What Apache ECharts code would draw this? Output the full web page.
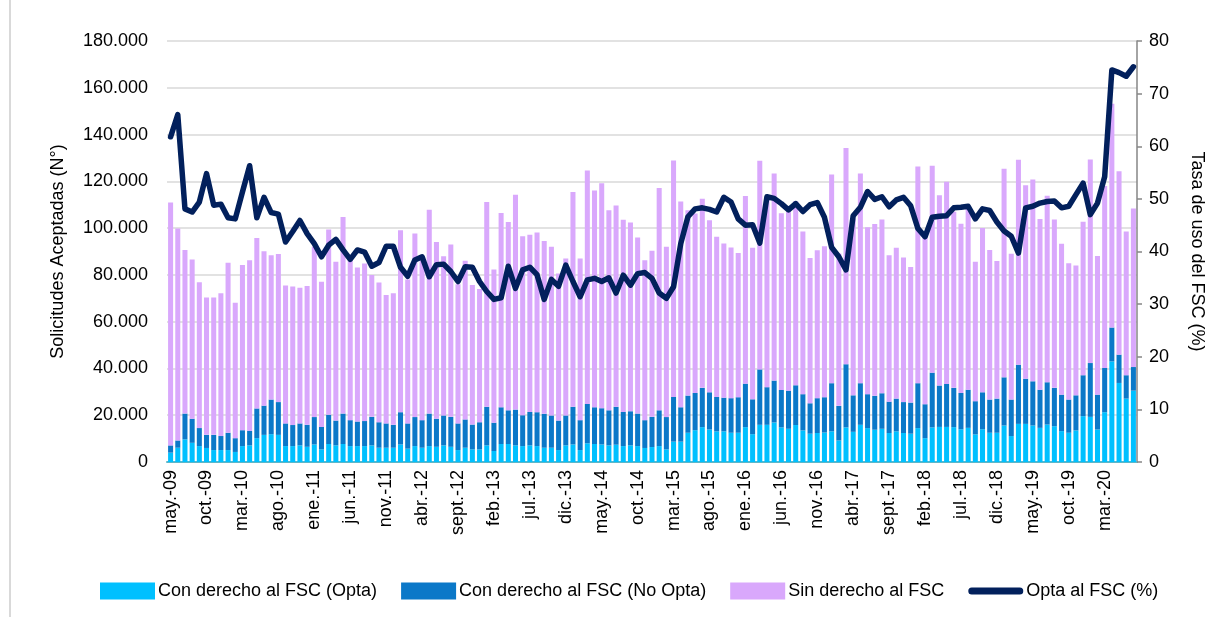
<!DOCTYPE html>
<html>
<head>
<meta charset="utf-8">
<script src="https://cdn.jsdelivr.net/npm/echarts@6/dist/echarts.min.js"></script>
<style>
  html, body { margin: 0; padding: 0; background: #fff; }
  #chart { width: 1231px; height: 617px; }
</style>
</head>
<body>
<div id="chart"></div>
<script>
// meses (etiquetas del eje), desde may.-09
var monthNames = ["ene.", "feb.", "mar.", "abr.", "may.", "jun.", "jul.", "ago.", "sept.", "oct.", "nov.", "dic."];
var firstMonth = 4, firstYear = 2009, nMonths = 135;

// solicitudes aceptadas, en miles
var conDerechoOpta = [
  4.0, 6.1, 9.7, 8.2, 6.8, 6.0, 5.1, 5.1, 5.1, 4.3,
  6.8, 7.1, 10.2, 11.6, 11.9, 11.6, 6.8, 6.8, 7.1, 6.5,
  7.5, 5.4, 7.7, 7.1, 7.7, 6.8, 6.8, 6.8, 7.1, 6.1,
  6.1, 6.1, 7.5, 5.7, 6.8, 6.1, 6.8, 6.5, 7.1, 6.5,
  5.1, 6.1, 5.4, 5.4, 7.1, 4.7, 7.7, 7.7, 7.1, 6.8,
  7.1, 6.8, 6.1, 6.1, 5.1, 7.1, 7.5, 5.1, 8.0, 7.7,
  7.5, 7.1, 7.4, 6.8, 7.1, 6.8, 6.0, 6.4, 6.8, 5.4,
  8.7, 8.7, 12.5, 13.6, 14.9, 13.9, 13.1, 13.1, 12.5, 12.5,
  14.9, 11.9, 15.9, 15.9, 16.9, 14.8, 14.2, 15.8, 13.5, 12.1,
  12.4, 12.6, 13.1, 9.2, 14.8, 12.9, 15.9, 14.5, 13.8, 14.2,
  12.4, 13.1, 12.4, 12.1, 14.5, 10.2, 14.8, 15.0, 15.0, 14.9,
  14.0, 14.6, 11.8, 14.0, 12.5, 12.5, 15.6, 11.1, 16.3, 16.3,
  15.6, 14.6, 16.0, 15.3, 13.2, 12.5, 13.5, 19.6, 19.3, 13.9,
  21.3, 43.0, 33.8, 27.1, 30.5
];
var conDerechoNoOpta = [
  3.1, 3.1, 11.0, 10.3, 7.7, 5.6, 6.5, 6.0, 7.4, 5.9,
  6.8, 6.2, 12.7, 12.5, 14.8, 14.0, 9.7, 9.0, 9.4, 9.4,
  11.7, 9.6, 12.5, 10.6, 13.0, 11.1, 10.5, 10.7, 12.2, 10.9,
  10.4, 9.8, 13.8, 10.8, 12.4, 11.8, 13.9, 12.0, 12.8, 12.8,
  11.4, 12.1, 10.6, 11.6, 16.5, 12.1, 15.7, 14.4, 15.3, 13.2,
  14.3, 14.5, 14.5, 13.8, 12.6, 12.8, 16.1, 12.8, 16.8, 15.7,
  15.5, 15.0, 16.2, 14.6, 14.6, 13.9, 11.9, 12.9, 15.3, 13.8,
  19.1, 14.7, 15.9, 15.9, 16.8, 15.9, 14.7, 14.4, 14.8, 15.2,
  18.6, 14.9, 23.7, 16.1, 17.9, 16.0, 16.3, 17.0, 15.5, 13.0,
  14.9, 15.1, 20.6, 14.8, 27.0, 15.6, 17.8, 14.5, 14.5, 15.2,
  13.4, 14.0, 13.2, 13.3, 19.2, 14.5, 23.4, 17.7, 18.4, 16.8,
  15.5, 16.3, 14.2, 15.8, 14.2, 14.6, 20.6, 15.6, 25.3, 19.3,
  18.9, 16.3, 18.1, 16.4, 15.6, 14.2, 15.0, 17.5, 23.0, 14.9,
  18.9, 14.5, 12.1, 10.0, 10.1
];
var sinDerecho = [
  103.8, 90.6, 69.9, 68.1, 62.4, 58.7, 58.7, 61.0, 72.7, 57.9,
  70.6, 73.0, 72.9, 66.0, 61.7, 63.3, 59.0, 59.2, 58.0, 59.3,
  72.8, 62.1, 79.2, 67.9, 84.1, 68.4, 65.9, 67.4, 60.6, 59.7,
  54.9, 56.2, 77.8, 61.5, 78.5, 68.1, 87.2, 75.6, 68.1, 73.7,
  59.5, 67.8, 59.7, 57.0, 87.6, 65.5, 83.1, 80.5, 91.9, 76.5,
  75.8, 76.8, 73.9, 72.1, 62.9, 67.1, 91.8, 69.1, 99.8, 92.7,
  96.2, 85.5, 86.1, 82.2, 80.7, 75.3, 68.4, 71.0, 95.0, 72.8,
  101.1, 88.0, 79.2, 76.7, 80.9, 73.6, 68.5, 65.9, 64.4, 61.7,
  80.2, 64.8, 89.2, 81.0, 88.6, 75.6, 76.6, 78.7, 69.6, 62.1,
  63.2, 64.5, 89.2, 65.1, 92.4, 75.5, 89.7, 71.4, 73.5, 74.3,
  62.6, 64.5, 61.8, 58.0, 92.6, 71.3, 88.5, 81.3, 86.4, 75.3,
  72.4, 78.1, 59.6, 70.2, 63.9, 58.8, 89.2, 62.3, 87.6, 82.7,
  86.3, 73.0, 79.7, 72.0, 64.5, 58.3, 55.5, 65.6, 87.0, 59.3,
  77.8, 95.7, 78.4, 61.4, 67.8
];
// tasa de uso del FSC (%)
var optaFSC = [
  61.8, 66.0, 48.1, 47.5, 49.4, 54.8, 48.8, 49.0, 46.4, 46.2,
  51.3, 56.3, 46.4, 50.3, 47.4, 47.1, 41.8, 43.8, 45.9, 43.4,
  41.5, 39.0, 41.2, 42.3, 40.3, 38.5, 40.3, 39.9, 37.2, 37.9,
  41.0, 41.0, 37.0, 35.3, 38.4, 39.0, 35.2, 37.5, 37.6, 36.2,
  34.3, 37.1, 37.0, 34.3, 32.4, 30.9, 31.2, 37.2, 33.0, 36.5,
  37.0, 35.6, 30.9, 34.7, 33.4, 37.4, 34.3, 31.4, 34.6, 34.9,
  34.3, 35.0, 32.1, 35.5, 33.6, 35.8, 36.0, 34.9, 32.1, 31.1,
  33.3, 41.5, 46.6, 48.1, 48.3, 48.0, 47.5, 50.3, 49.4, 46.2,
  45.0, 45.1, 41.6, 50.4, 50.1, 49.1, 47.9, 49.1, 47.6, 48.9,
  49.3, 46.5, 40.8, 39.0, 36.5, 46.8, 48.4, 51.4, 49.9, 50.4,
  48.5, 49.8, 50.3, 48.7, 44.4, 42.8, 46.5, 46.7, 46.8, 48.3,
  48.4, 48.6, 46.2, 48.1, 47.8, 45.6, 43.9, 42.9, 39.7, 48.3,
  48.6, 49.2, 49.5, 49.6, 48.3, 48.6, 50.8, 53.0, 47.0, 49.2,
  54.2, 74.5, 74.0, 73.3, 75.1
];

var leftTicks = [0, 20, 40, 60, 80, 100, 120, 140, 160, 180];
var rightTicks = [0, 10, 20, 30, 40, 50, 60, 70, 80];

var categories = [];
for (var i = 0; i < nMonths; i++) {
  var m = (firstMonth + i) % 12;
  var y = firstYear + Math.floor((firstMonth + i) / 12);
  categories.push(monthNames[m] + "-" + String(y).slice(2));
}

var font = "Liberation Sans";
var chart = echarts.init(document.getElementById("chart"), null, { renderer: "canvas" });

// icono de linea gruesa con puntas redondeadas para la leyenda
var lineIcon = "path://M3.5,0 L51.5,0 A3.5,3.5 0 0 1 51.5,7 L3.5,7 A3.5,3.5 0 0 1 3.5,0 Z";

var option = {
  animation: false,
  backgroundColor: "#ffffff",
  textStyle: { fontFamily: font, color: "#000" },
  grid: { left: 167, right: 94, top: 41, bottom: 155, containLabel: false },
  graphic: [
    {
      type: "line",
      shape: { x1: 10, y1: 0, x2: 10, y2: 617 },
      style: { stroke: "#d9d9d9", lineWidth: 2 }
    }
  ],
  legend: {
    left: 95,
    top: 577,
    itemWidth: 55,
    itemHeight: 17,
    itemGap: 24,
    symbolKeepAspect: true,
    textStyle: { fontFamily: font, fontSize: 18, color: "#000", padding: [0, 0, 0, -2] },
    data: [
      { name: "Con derecho al FSC (Opta)", icon: "rect" },
      { name: "Con derecho al FSC (No Opta)", icon: "rect" },
      { name: "Sin derecho al FSC", icon: "rect" },
      { name: "Opta al FSC (%)", icon: lineIcon }
    ]
  },
  xAxis: {
    type: "category",
    data: categories,
    axisLine: { lineStyle: { color: "#5bb7c9", width: 2 } },
    axisTick: { show: false },
    axisLabel: {
      interval: 4,
      rotate: 90,
      fontSize: 18,
      color: "#000",
      fontFamily: font,
      margin: 8
    }
  },
  yAxis: [
    {
      type: "value",
      min: leftTicks[0],
      max: leftTicks[leftTicks.length - 1],
      interval: 20,
      name: "Solicitudes Aceptadas (N°)",
      nameLocation: "middle",
      nameRotate: 90,
      nameGap: 100,
      nameTextStyle: { fontSize: 18, color: "#000", fontFamily: font },
      axisLine: { show: false },
      axisTick: { show: false },
      splitLine: { lineStyle: { color: "#d9d9d9", width: 1.5 } },
      axisLabel: {
        fontSize: 18,
        color: "#000",
        margin: 19,
        formatter: function (v) { return v === 0 ? "0" : v + ".000"; }
      }
    },
    {
      type: "value",
      min: rightTicks[0],
      max: rightTicks[rightTicks.length - 1],
      interval: 10,
      position: "right",
      name: "Tasa de uso del FSC (%)",
      nameLocation: "middle",
      nameRotate: -90,
      nameGap: 51,
      nameTextStyle: { fontSize: 18, color: "#000", fontFamily: font },
      axisLine: { show: true, lineStyle: { color: "#868686", width: 1.5 } },
      axisTick: { show: true, length: 5, lineStyle: { color: "#868686", width: 1.5 } },
      splitLine: { show: false },
      axisLabel: { fontSize: 18, color: "#000", margin: 12 }
    }
  ],
  series: [
    {
      name: "Con derecho al FSC (Opta)",
      type: "bar",
      stack: "total",
      barCategoryGap: "30%",
      itemStyle: { color: "#00c0ff" },
      data: conDerechoOpta
    },
    {
      name: "Con derecho al FSC (No Opta)",
      type: "bar",
      stack: "total",
      itemStyle: { color: "#0b78c8" },
      data: conDerechoNoOpta
    },
    {
      name: "Sin derecho al FSC",
      type: "bar",
      stack: "total",
      itemStyle: { color: "#d9a8fc" },
      data: sinDerecho
    },
    {
      name: "Opta al FSC (%)",
      type: "line",
      yAxisIndex: 1,
      symbol: "none",
      smooth: false,
      lineStyle: { color: "#02205c", width: 5.5, cap: "round", join: "round" },
      itemStyle: { color: "#02205c" },
      data: optaFSC
    }
  ]
};

chart.setOption(option);
</script>
</body>
</html>
